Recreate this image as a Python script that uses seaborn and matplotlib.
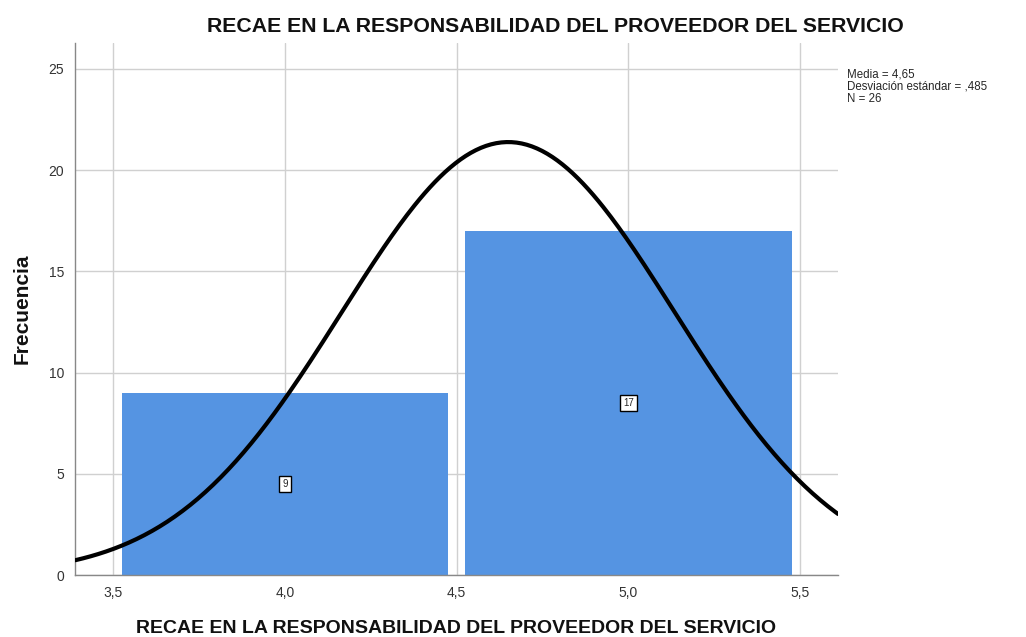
import numpy as np
import pandas as pd
import matplotlib
matplotlib.use('Agg')
import matplotlib.pyplot as plt
import seaborn as sns

# Datos del histograma
valores = [4, 5]
frecuencias = [9, 17]
bordes = [3.5, 4.5, 5.5]
media = 4.65
desv = 0.485
n = 26
xticks = [3.5, 4.0, 4.5, 5.0, 5.5]
xtick_labels = ['3,5', '4,0', '4,5', '5,0', '5,5']
yticks = [0, 5, 10, 15, 20, 25]

sns.set_style("white")
plt.rcParams['font.family'] = ['Liberation Sans', 'DejaVu Sans']

fig = plt.figure(figsize=(10.26, 6.37), dpi=100)
ax = fig.add_axes([0.0731, 0.0973, 0.7437, 0.8352])

df = pd.DataFrame({'x': valores, 'f': frecuencias})
sns.histplot(data=df, x='x', weights='f', bins=bordes, shrink=0.95,
             color='#5594e2', alpha=1, edgecolor='none', ax=ax, zorder=2)

# Curva normal
xs = np.linspace(3.39, 5.61, 300)
ys = n * 1.0 / (desv * np.sqrt(2 * np.pi)) * np.exp(-0.5 * ((xs - media) / desv) ** 2)
sns.lineplot(x=xs, y=ys, color='black', linewidth=3, ax=ax, zorder=4)

# Etiquetas de las barras
for v, f in zip(valores, frecuencias):
    ax.text(v, f / 2, str(f), ha='center', va='center', fontsize=7, zorder=5,
            bbox=dict(boxstyle='square,pad=0.3', fc='white', ec='black', lw=1))

ax.set_xlim(3.389, 5.61)
ax.set_ylim(0, 26.28)
ax.set_xticks(xticks)
ax.set_xticklabels(xtick_labels)
ax.set_yticks(yticks)
ax.grid(True, color='#d0d0d0', linewidth=1, zorder=0)
ax.set_axisbelow(True)
for s in ['top', 'right']:
    ax.spines[s].set_visible(False)
for s in ['left', 'bottom']:
    ax.spines[s].set_color('#888888')
    ax.spines[s].set_linewidth(1)
ax.tick_params(axis='both', labelsize=10, colors='#333333', length=0, pad=8)

ax.set_title('RECAE EN LA RESPONSABILIDAD DEL PROVEEDOR DEL SERVICIO',
             fontsize=15.3, fontweight='bold', pad=8, x=0.629, color='#111111')
ax.set_xlabel('RECAE EN LA RESPONSABILIDAD DEL PROVEEDOR DEL SERVICIO',
              fontsize=14, fontweight='bold', labelpad=14, color='#111111')
ax.set_ylabel('Frecuencia', fontsize=15, fontweight='bold', labelpad=12,
              color='#111111')

fig.text(0.8255, 0.893, 'Media = 4,65\nDesviación estándar = ,485\nN = 26',
         fontsize=8.3, va='top', ha='left', linespacing=1.05)

plt.savefig('out.png', dpi=100)
